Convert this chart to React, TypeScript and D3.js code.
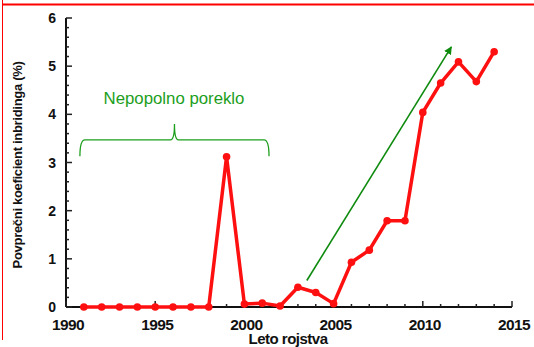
import React from "react";
import * as d3 from "d3";

const years = [1991,1992,1993,1994,1995,1996,1997,1998,1999,2000,2001,2002,2003,2004,2005,2006,2007,2008,2009,2010,2011,2012,2013,2014];
const values = [0,0,0,0,0,0,0,0,3.12,0.06,0.08,0.02,0.41,0.3,0.07,0.93,1.18,1.79,1.79,4.04,4.65,5.09,4.68,5.3];
const xTicks = [1990,1995,2000,2005,2010,2015];
const yTicks = [0,1,2,3,4,5,6];
const annotation = "Nepopolno poreklo";
const xLabel = "Leto rojstva";
const yLabel = "Povprečni koeficient inbridinga (%)";

export default function App() {
  const W = 534, H = 347;
  const x = d3.scaleLinear().domain([1990, 2015]).range([66, 512]);
  const y = d3.scaleLinear().domain([0, 6]).range([307, 18]);
  const line = d3.line<number>().x((_, i) => x(years[i])).y((v) => y(v));
  const minorX = d3.range(1990, 2016, 1);
  const minorY = d3.range(0, 6.001, 0.2);
  const green = "#1c9e1c";
  const font = "'Liberation Sans', Arial, sans-serif";

  // brace geometry from data-space positions
  const bx0 = x(1990.78), bx1 = x(2001.38), bmid = (bx0 + bx1) / 2;
  const byTop = y(3.47), byEnd = y(3.13), byTip = y(3.8);
  const brace = `M${bx0},${byEnd} Q${bx0},${byTop} ${bx0 + 5},${byTop} L${bmid - 4},${byTop} Q${bmid},${byTop} ${bmid},${byTip} Q${bmid},${byTop} ${bmid + 4},${byTop} L${bx1 - 5},${byTop} Q${bx1},${byTop} ${bx1},${byEnd}`;

  const ax0 = x(2003.5), ay0 = y(0.55), ax1 = x(2011.6), ay1 = y(5.4);

  return (
    <svg width={W} height={H} style={{ position: "absolute", left: 0, top: 0, background: "#fff" }}>
      <defs>
        <marker id="arr" viewBox="0 0 10 10" refX="9" refY="5" markerWidth="5" markerHeight="5" orient="auto">
          <path d="M0,0 L10,5 L0,10 z" fill="#0e8a0e" />
        </marker>
      </defs>
      {/* frame lines */}
      <line x1={2} x2={534} y1={4.5} y2={4.5} stroke="#ff0000" strokeWidth={2} />
      <line x1={2.5} x2={2.5} y1={0} y2={340} stroke="#ff0000" strokeWidth={1} />

      {/* axes */}
      <line x1={x(1990)} x2={x(2015)} y1={y(0)} y2={y(0)} stroke="#111" strokeWidth={2} />
      <line x1={x(1990)} x2={x(1990)} y1={y(0)} y2={y(6)} stroke="#111" strokeWidth={2} />
      {minorX.map((t) => (
        <line key={"mx" + t} x1={x(t)} x2={x(t)} y1={y(0)} y2={y(0) - (t % 5 === 0 ? 6 : 3)} stroke="#222" strokeWidth={1.5} />
      ))}
      {minorY.map((t, i) => (
        <line key={"my" + i} x1={x(1990)} x2={x(1990) + (i % 5 === 0 ? 6 : 3)} y1={y(t)} y2={y(t)} stroke="#222" strokeWidth={1.5} />
      ))}
      {xTicks.map((t) => (
        <text key={"xt" + t} x={x(t) + 2} y={330} textAnchor="middle" fontFamily={font} fontWeight="bold" fontSize={15.5} letterSpacing={-0.6} fill="#111">{t}</text>
      ))}
      {yTicks.map((t) => (
        <text key={"yt" + t} x={56} y={y(t) + 5} textAnchor="end" fontFamily={font} fontWeight="bold" fontSize={14} fill="#111">{t}</text>
      ))}
      <text x={288} y={344} textAnchor="middle" fontFamily={font} fontWeight="bold" fontSize={15} letterSpacing={-0.5} fill="#111">{xLabel}</text>
      <text transform={`translate(22,165) rotate(-90)`} textAnchor="middle" fontFamily={font} fontWeight="bold" fontSize={13} letterSpacing={-0.3} fill="#111">{yLabel}</text>

      {/* annotations */}
      <text x={174} y={104} textAnchor="middle" fontFamily={font} fontSize={16.8} fill={green}>{annotation}</text>
      <path d={brace} fill="none" stroke={green} strokeWidth={1.3} />
      <line x1={ax0} y1={ay0} x2={ax1} y2={ay1} stroke="#0e8a0e" strokeWidth={1.6} markerEnd="url(#arr)" />

      {/* data */}
      <path d={line(values) || ""} fill="none" stroke="#ff1010" strokeWidth={3.5} strokeLinejoin="round" />
      {values.map((v, i) => (
        <circle key={"p" + i} cx={x(years[i])} cy={y(v)} r={3.8} fill="#ff1010" />
      ))}
    </svg>
  );
}
